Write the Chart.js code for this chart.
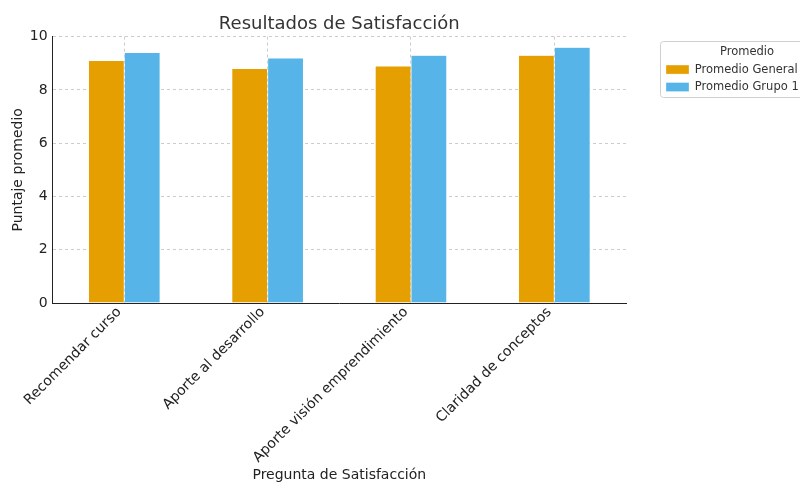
<!DOCTYPE html>
<html>
<head>
<meta charset="utf-8">
<script src="https://cdn.jsdelivr.net/npm/chart.js@4.4.1/dist/chart.umd.min.js"></script>
<style>
  html, body { margin: 0; padding: 0; background: #fff; }
  #wrap { width: 800px; height: 483px; }
</style>
</head>
<body>
<div id="wrap"><canvas id="satChart" width="800" height="483"></canvas></div>
<script>
const preguntas = ['Recomendar curso', 'Aporte al desarrollo', 'Aporte visión emprendimiento', 'Claridad de conceptos'];
const promedioGeneral = [9.1, 8.8, 8.9, 9.3];
const promedioGrupo1 = [9.4, 9.2, 9.3, 9.6];
const yTicks = [0, 2, 4, 6, 8, 10];

const FONT = "'DejaVu Sans', sans-serif";

// legend sits outside the axes, to the right, with a thin frame (matplotlib bbox_to_anchor look)
const legendBox = {
  id: 'legendBox',
  beforeLayout(chart) {
    const lg = chart.legend;
    if (lg && !lg._patched) {
      const fit = lg.fit;
      lg.fit = function () { fit.call(this); this.width = 174; };
      lg._patched = true;
    }
  },
  afterLayout(chart) {
    const lg = chart.legend;
    lg.left += 34; lg.right += 34;
    lg.top += 36; lg.bottom += 36;
    // centre the title over the plot area
    const t = chart.titleBlock;
    t.left = chart.chartArea.left; t.right = chart.chartArea.right;
    t.width = t.right - t.left;
  },
  afterDraw(chart) {
    const lg = chart.legend;
    const ctx = chart.ctx;
    ctx.save();
    ctx.strokeStyle = '#d0d0d0';
    ctx.lineWidth = 1;
    ctx.beginPath();
    ctx.roundRect(lg.left + 0.5, lg.top + 1.5, 150, 56, 3);
    ctx.stroke();
    ctx.restore();
  }
};

new Chart(document.getElementById('satChart').getContext('2d'), {
  type: 'bar',
  data: {
    labels: preguntas,
    datasets: [
      { label: 'Promedio General', data: promedioGeneral, backgroundColor: '#E69F00', borderColor: 'rgba(255,255,255,0.6)', borderWidth: 0.5 },
      { label: 'Promedio Grupo 1', data: promedioGrupo1, backgroundColor: '#56B4E9', borderColor: 'rgba(255,255,255,0.6)', borderWidth: 0.5 }
    ]
  },
  options: {
    responsive: false,
    animation: false,
    devicePixelRatio: 1,
    layout: { padding: { top: 4, left: 10, right: 0, bottom: -1 } },
    datasets: { bar: { categoryPercentage: 0.5, barPercentage: 1.0 } },
    plugins: {
      title: {
        display: true,
        text: 'Resultados de Satisfacción',
        color: '#333',
        font: { family: FONT, size: 18, weight: 'normal' },
        padding: { top: 10, bottom: 1 }
      },
      legend: {
        position: 'right',
        align: 'start',
        title: { display: true, text: 'Promedio', color: '#333', font: { family: FONT, size: 11.5 }, padding: { top: 6, bottom: -2 } },
        labels: {
          color: '#333',
          font: { family: FONT, size: 11.5 },
          boxWidth: 23,
          boxHeight: 9,
          padding: 6
        }
      },
      tooltip: { enabled: false }
    },
    scales: {
      x: {
        offset: true,
        grid: { offset: false, color: '#cccccc', drawTicks: false },
        border: { display: true, color: '#222', width: 1, dash: [3, 3] },
        ticks: { color: '#222', font: { family: FONT, size: 14, lineHeight: 1.0 }, minRotation: 45, maxRotation: 45, padding: 2, labelOffset: -5 },
        title: { display: true, text: 'Pregunta de Satisfacción', color: '#222', font: { family: FONT, size: 14 }, padding: { top: 0, bottom: 0 } }
      },
      y: {
        min: 0,
        max: 10,
        afterBuildTicks(scale) { scale.ticks = yTicks.map(v => ({ value: v })); },
        grid: { color: '#cccccc', drawTicks: false },
        border: { display: true, color: '#222', width: 1, dash: [3, 3] },
        ticks: { color: '#222', font: { family: FONT, size: 14 }, padding: 5 },
        title: { display: true, text: 'Puntaje promedio', color: '#222', font: { family: FONT, size: 14 }, padding: { top: 0, bottom: -2 } }
      }
    }
  },
  plugins: [legendBox]
});
</script>
</body>
</html>
